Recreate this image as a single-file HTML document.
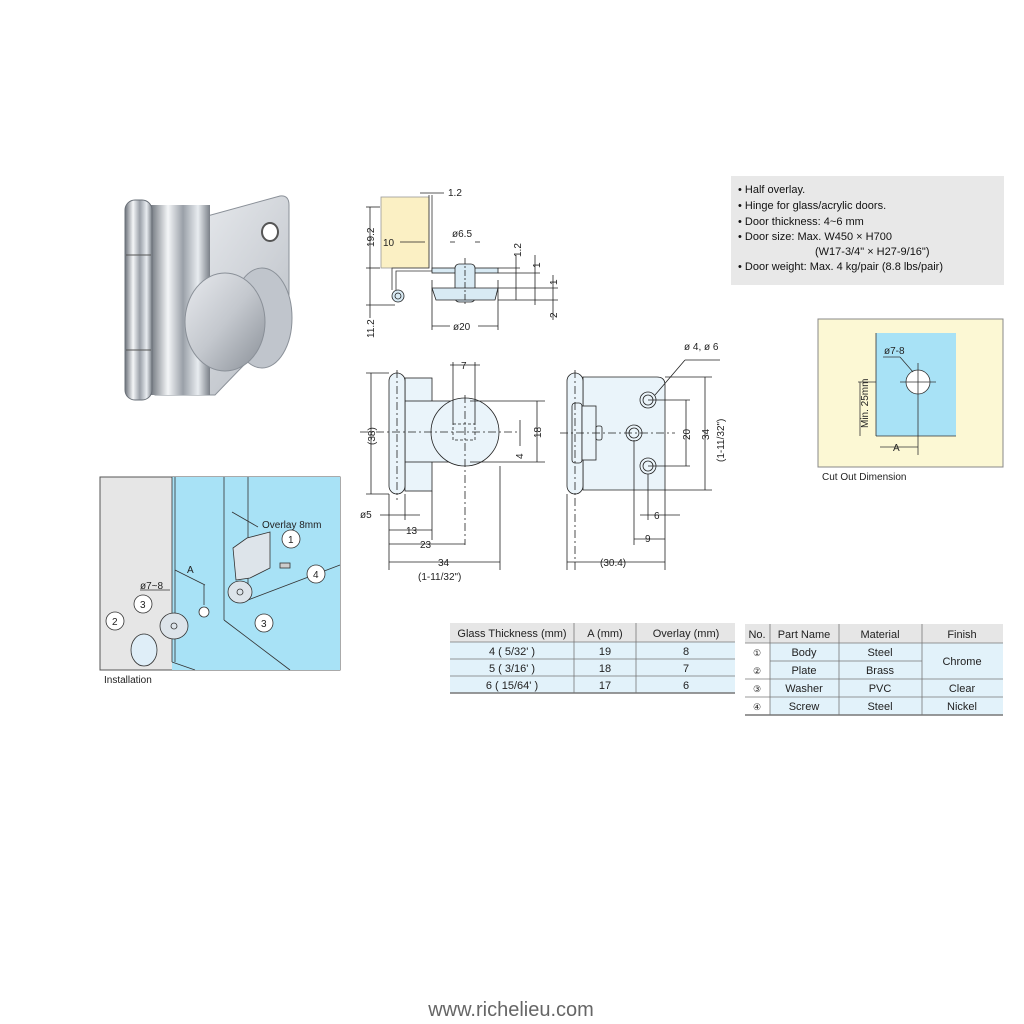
<!DOCTYPE html>
<html><head><meta charset="utf-8"><style>
html,body{margin:0;padding:0;background:#fff;}
svg{display:block;font-family:"Liberation Sans",sans-serif;}
</style></head><body>
<svg width="1024" height="1024" viewBox="0 0 1024 1024" xmlns="http://www.w3.org/2000/svg">
<defs>
<linearGradient id="chr" x1="0" x2="1" y1="0" y2="0"><stop offset="0" stop-color="#6a7078"/><stop offset=".3" stop-color="#f4f6f8"/><stop offset=".55" stop-color="#9aa0a8"/><stop offset=".8" stop-color="#e8ecf0"/><stop offset="1" stop-color="#7a8088"/></linearGradient>
<linearGradient id="disc" x1="0" x2="1" y1="0" y2="1"><stop offset="0" stop-color="#e8eaee"/><stop offset=".5" stop-color="#c4c8ce"/><stop offset="1" stop-color="#8a9098"/></linearGradient>
<linearGradient id="plate" x1="0" x2="1" y1="0" y2="1"><stop offset="0" stop-color="#f0f2f5"/><stop offset="1" stop-color="#b6bbc2"/></linearGradient>
</defs>

<!-- Photo -->
<path d="M200 218 L280 196 Q289 195 289 205 L289 300 Q288 330 268 340 L215 395 L155 395 L155 215 Z" fill="url(#plate)" stroke="#8a9098"/>
<ellipse cx="270" cy="232" rx="8" ry="9" fill="#fff" stroke="#555" stroke-width="2"/>
<rect x="150" y="205" width="60" height="190" fill="url(#chr)"/>
<ellipse cx="262" cy="318" rx="30" ry="50" fill="#c0c5cc" stroke="#8a9098"/>
<ellipse cx="225" cy="322" rx="40" ry="49" fill="url(#disc)" stroke="#8a9098"/>
<rect x="125" y="200" width="27" height="200" rx="10" fill="url(#chr)" stroke="#6a7078"/>
<line x1="126" y1="255" x2="151" y2="255" stroke="#555"/>
<line x1="126" y1="350" x2="151" y2="350" stroke="#555"/>

<!-- Top side view -->
<g stroke="#222" stroke-width="0.8" fill="none" font-size="10">
<rect x="381" y="197" width="48" height="71" fill="#fbf0c4" stroke="#999"/>
<path d="M429 195 V268 H392 V290" stroke="#333"/>
<path d="M432 195 V271 H396 V290" stroke="#333"/>
<circle cx="398" cy="296" r="6" fill="#d8eaf4"/><circle cx="398" cy="296" r="3"/>
<rect x="432" y="268" width="66" height="5" fill="#d8eaf4"/>
<rect x="455" y="264" width="20" height="38" rx="4" fill="#d8eaf4"/>
<path d="M432 288 L498 288 L495 300 L436 300 Z" fill="#d8eaf4"/>
<line x1="465" y1="258" x2="465" y2="305" stroke-dasharray="6 2 2 2"/>
<line x1="370" y1="207" x2="370" y2="318"/>
<line x1="366" y1="207" x2="380" y2="207"/><line x1="366" y1="268" x2="380" y2="268"/><line x1="366" y1="305" x2="395" y2="305"/>
<line x1="432" y1="280" x2="432" y2="330"/><line x1="498" y1="280" x2="498" y2="330"/>
<line x1="432" y1="326" x2="450" y2="326"/><line x1="478" y1="326" x2="498" y2="326"/>
<line x1="450" y1="242" x2="455" y2="242"/><line x1="475" y1="242" x2="480" y2="242"/>
<line x1="420" y1="193" x2="444" y2="193"/>
<line x1="400" y1="242" x2="425" y2="242"/>
<line x1="516" y1="255" x2="516" y2="300"/><line x1="535" y1="255" x2="535" y2="305"/><line x1="553" y1="275" x2="553" y2="320"/>
<line x1="498" y1="268" x2="520" y2="268"/><line x1="498" y1="273" x2="540" y2="273"/><line x1="498" y1="288" x2="558" y2="288"/><line x1="498" y1="300" x2="558" y2="300"/>
</g>
<g font-size="10" fill="#222">
<text x="448" y="196">1.2</text>
<text x="452" y="237">ø6.5</text>
<text x="383" y="246">10</text>
<text x="453" y="330">ø20</text>
<text transform="translate(374,247) rotate(-90)">19.2</text>
<text transform="translate(374,338) rotate(-90)">11.2</text>
<text transform="translate(521,257) rotate(-90)">1.2</text>
<text transform="translate(540,268) rotate(-90)">1</text>
<text transform="translate(557,285) rotate(-90)">1</text>
<text transform="translate(557,318) rotate(-90)">2</text>
</g>

<!-- Front view -->
<g stroke="#222" stroke-width="0.8" fill="none">
<rect x="405" y="378" width="27" height="113" fill="#eaf4fa"/>
<rect x="405" y="401" width="65" height="61" fill="#eaf4fa"/>
<circle cx="465" cy="432" r="34" fill="#eaf4fa"/>
<rect x="389" y="373" width="16" height="121" rx="8" fill="#eaf4fa"/>
<rect x="453" y="424" width="22" height="16" stroke-dasharray="3 2"/>
<line x1="360" y1="432" x2="520" y2="432" stroke-dasharray="8 3 2 3"/>
<line x1="397" y1="370" x2="397" y2="500" stroke-dasharray="8 3 2 3"/>
<line x1="465" y1="395" x2="465" y2="545" stroke-dasharray="8 3 2 3"/>
<line x1="371" y1="373" x2="371" y2="494"/><line x1="366" y1="373" x2="389" y2="373"/><line x1="366" y1="494" x2="389" y2="494"/>
<line x1="389" y1="494" x2="389" y2="570"/><line x1="405" y1="494" x2="405" y2="520"/><line x1="432" y1="491" x2="432" y2="540"/><line x1="500" y1="466" x2="500" y2="570"/>
<line x1="389" y1="530" x2="432" y2="530"/><line x1="389" y1="544" x2="465" y2="544"/><line x1="389" y1="562" x2="500" y2="562"/>
<line x1="380" y1="515" x2="420" y2="515"/>
<line x1="453" y1="362" x2="453" y2="424"/><line x1="475" y1="362" x2="475" y2="424"/><line x1="450" y1="365" x2="480" y2="365"/>
<line x1="537" y1="401" x2="537" y2="462"/><line x1="470" y1="401" x2="545" y2="401"/><line x1="470" y1="462" x2="545" y2="462"/>
<line x1="520" y1="420" x2="520" y2="446"/>
</g>
<g font-size="10" fill="#222">
<text transform="translate(375,445) rotate(-90)">(38)</text>
<text x="360" y="518">ø5</text>
<text x="406" y="534">13</text>
<text x="420" y="548">23</text>
<text x="438" y="566">34</text>
<text x="418" y="580">(1-11/32")</text>
<text x="461" y="369">7</text>
<text transform="translate(541,438) rotate(-90)">18</text>
<text transform="translate(523,459) rotate(-90)">4</text>
</g>

<!-- Side view right -->
<g stroke="#222" stroke-width="0.8" fill="none">
<path d="M583 377 H657 Q665 377 665 385 V490 H583 Z" fill="#eaf4fa"/>
<rect x="567" y="373" width="16" height="121" rx="8" fill="#eaf4fa"/>
<rect x="572" y="403" width="10" height="60" rx="3" fill="#eaf4fa"/>
<rect x="582" y="406" width="14" height="54" fill="#eaf4fa"/>
<rect x="596" y="426" width="6" height="14" rx="2" fill="#eaf4fa"/>
<circle cx="648" cy="400" r="8" fill="#eaf4fa"/><circle cx="648" cy="400" r="5"/>
<circle cx="634" cy="433" r="8" fill="#eaf4fa"/><circle cx="634" cy="433" r="5"/>
<circle cx="648" cy="466" r="8" fill="#eaf4fa"/><circle cx="648" cy="466" r="5"/>
<line x1="560" y1="433" x2="675" y2="433" stroke-dasharray="8 3 2 3"/>
<line x1="575" y1="370" x2="575" y2="570" stroke-dasharray="8 3 2 3"/>
<line x1="655" y1="395" x2="685" y2="360"/><line x1="685" y1="360" x2="720" y2="360"/>
<line x1="648" y1="400" x2="690" y2="400"/><line x1="648" y1="466" x2="690" y2="466"/><line x1="686" y1="400" x2="686" y2="466"/>
<line x1="665" y1="377" x2="712" y2="377"/><line x1="665" y1="490" x2="712" y2="490"/><line x1="705" y1="377" x2="705" y2="490"/>
<line x1="634" y1="440" x2="634" y2="545"/><line x1="648" y1="474" x2="648" y2="520"/><line x1="665" y1="490" x2="665" y2="570"/>
<line x1="640" y1="515" x2="680" y2="515"/><line x1="634" y1="539" x2="665" y2="539"/><line x1="567" y1="562" x2="665" y2="562"/>
<line x1="567" y1="494" x2="567" y2="570"/>
</g>
<g font-size="10" fill="#222">
<text x="684" y="350">ø 4,  ø 6</text>
<text transform="translate(690,440) rotate(-90)">20</text>
<text transform="translate(709,440) rotate(-90)">34</text>
<text transform="translate(724,462) rotate(-90)">(1-11/32")</text>
<text x="654" y="519">6</text>
<text x="645" y="542">9</text>
<text x="600" y="566">(30.4)</text>
</g>

<!-- Spec box -->
<rect x="731" y="176" width="273" height="109" fill="#e8e8e8"/>
<g font-size="11" fill="#111">
<text x="738" y="193">• Half overlay.</text>
<text x="738" y="209">• Hinge for glass/acrylic doors.</text>
<text x="738" y="225">• Door thickness: 4~6 mm</text>
<text x="738" y="240">• Door size: Max. W450 × H700</text>
<text x="815" y="255">(W17-3/4" × H27-9/16")</text>
<text x="738" y="270">• Door weight: Max. 4 kg/pair (8.8 lbs/pair)</text>
</g>

<!-- Cut out -->
<rect x="818" y="319" width="185" height="148" fill="#fcf8d4" stroke="#888"/>
<rect x="876" y="333" width="80" height="103" fill="#a8e2f6"/>
<g stroke="#333" stroke-width="0.8" fill="none">
<line x1="876" y1="333" x2="876" y2="436"/><line x1="876" y1="436" x2="956" y2="436"/>
<circle cx="918" cy="382" r="12" fill="#fff"/>
<line x1="900" y1="382" x2="936" y2="382"/><line x1="918" y1="363" x2="918" y2="455"/>
<line x1="858" y1="382" x2="876" y2="382"/><line x1="860" y1="382" x2="860" y2="436"/>
<line x1="880" y1="447" x2="918" y2="447"/><line x1="883" y1="357" x2="900" y2="357"/><line x1="900" y1="357" x2="913" y2="372"/>
</g>
<g font-size="10" fill="#222">
<text x="884" y="354">ø7-8</text>
<text transform="translate(868,428) rotate(-90)">Min. 25mm</text>
<text x="893" y="451">A</text>
<text x="822" y="480">Cut Out Dimension</text>
</g>

<!-- Installation -->
<rect x="100" y="477" width="240" height="193" fill="#e6e6e6" stroke="#555"/>
<rect x="172" y="477" width="168" height="193" fill="#a8e2f6"/>
<g stroke="#333" stroke-width="0.8" fill="none">
<line x1="172" y1="477" x2="172" y2="662"/><line x1="175" y1="477" x2="175" y2="662"/>
<line x1="172" y1="662" x2="195" y2="670"/>
<line x1="224" y1="477" x2="224" y2="620"/><line x1="248" y1="477" x2="248" y2="600"/>
<line x1="224" y1="620" x2="290" y2="670"/><line x1="248" y1="600" x2="340" y2="565"/>
<path d="M233 548 L247 538 L270 532 V568 L250 578 L236 580 Z" fill="#dde4ea"/>
<ellipse cx="240" cy="592" rx="12" ry="11" fill="#dde4ea"/><circle cx="240" cy="592" r="3"/>
<rect x="280" y="563" width="10" height="5" fill="#ccc"/>
<ellipse cx="174" cy="626" rx="14" ry="13" fill="#dde4ea"/><circle cx="174" cy="626" r="3"/>
<ellipse cx="144" cy="650" rx="13" ry="16" fill="#dfeef8"/>
<circle cx="204" cy="612" r="5" fill="#fff"/>
<line x1="175" y1="570" x2="205" y2="585"/><line x1="204" y1="585" x2="204" y2="605"/>
<line x1="140" y1="590" x2="170" y2="590"/>
<line x1="232" y1="512" x2="258" y2="527"/>
</g>
<g stroke="#333" fill="#fff" stroke-width="0.8">
<circle cx="291" cy="539" r="9"/><circle cx="316" cy="574" r="9"/><circle cx="264" cy="623" r="9"/>
<circle cx="143" cy="604" r="9"/><circle cx="115" cy="621" r="9"/>
</g>
<g font-size="10" fill="#222">
<text x="262" y="528">Overlay 8mm</text>
<text x="288" y="543">1</text><text x="313" y="578">4</text><text x="261" y="627">3</text>
<text x="140" y="608">3</text><text x="112" y="625">2</text>
<text x="187" y="573">A</text>
<text x="140" y="589">ø7~8</text>
<text x="104" y="683">Installation</text>
</g>

<!-- Table 1 -->
<g font-size="11" fill="#222" text-anchor="middle">
<rect x="450" y="623" width="285" height="19" fill="#e6e6e6"/>
<rect x="450" y="642" width="285" height="51" fill="#e2f2fa"/>
<g stroke="#777" stroke-width="0.8">
<line x1="450" y1="642" x2="735" y2="642"/><line x1="450" y1="659" x2="735" y2="659"/><line x1="450" y1="676" x2="735" y2="676"/><line x1="450" y1="693" x2="735" y2="693" stroke-width="1.5"/>
<line x1="574" y1="623" x2="574" y2="693"/><line x1="636" y1="623" x2="636" y2="693"/>
</g>
<text x="512" y="637">Glass Thickness (mm)</text><text x="605" y="637">A (mm)</text><text x="686" y="637">Overlay (mm)</text>
<text x="512" y="655">4 (  5/32'   )</text><text x="605" y="655">19</text><text x="686" y="655">8</text>
<text x="512" y="672">5 (  3/16'   )</text><text x="605" y="672">18</text><text x="686" y="672">7</text>
<text x="512" y="689">6 ( 15/64'  )</text><text x="605" y="689">17</text><text x="686" y="689">6</text>
</g>

<!-- Table 2 -->
<g font-size="11" fill="#222" text-anchor="middle">
<rect x="745" y="624" width="258" height="19" fill="#e6e6e6"/>
<rect x="770" y="643" width="233" height="72" fill="#e2f2fa"/>
<g stroke="#777" stroke-width="0.8">
<line x1="745" y1="643" x2="1003" y2="643"/><line x1="770" y1="661" x2="922" y2="661"/><line x1="745" y1="679" x2="1003" y2="679"/><line x1="745" y1="697" x2="1003" y2="697"/><line x1="745" y1="715" x2="1003" y2="715" stroke-width="1.5"/>
<line x1="770" y1="624" x2="770" y2="715"/><line x1="839" y1="624" x2="839" y2="715"/><line x1="922" y1="624" x2="922" y2="715"/>
</g>
<text x="757" y="638">No.</text><text x="804" y="638">Part Name</text><text x="880" y="638">Material</text><text x="962" y="638">Finish</text>
<text x="757" y="656" font-size="9">①</text><text x="804" y="656">Body</text><text x="880" y="656">Steel</text><text x="962" y="665">Chrome</text>
<text x="757" y="674" font-size="9">②</text><text x="804" y="674">Plate</text><text x="880" y="674">Brass</text>
<text x="757" y="692" font-size="9">③</text><text x="804" y="692">Washer</text><text x="880" y="692">PVC</text><text x="962" y="692">Clear</text>
<text x="757" y="710" font-size="9">④</text><text x="804" y="710">Screw</text><text x="880" y="710">Steel</text><text x="962" y="710">Nickel</text>
</g>

<text x="511" y="1016" font-size="20" fill="#666" text-anchor="middle">www.richelieu.com</text>
</svg>
</body></html>
